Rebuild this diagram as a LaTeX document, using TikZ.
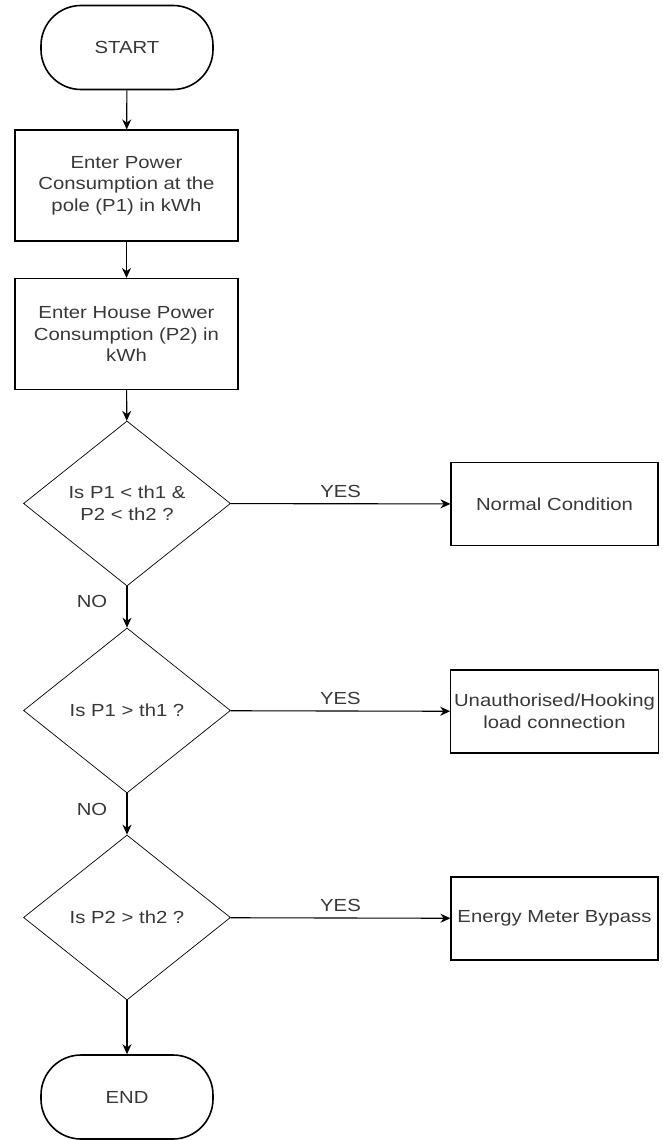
\documentclass[tikz,border=0pt]{standalone}
\usepackage{fontspec}
\setmainfont{Liberation Sans}[FakeStretch=1.16]
\usetikzlibrary{shapes.geometric,arrows.meta}

\tikzset{
    terminal/.style={draw, line width=1.6pt, rounded corners=40pt, minimum width=172pt, minimum height=84pt},
    process/.style={draw, line width=1.1pt, minimum width=223pt, minimum height=111pt, align=center},
    decision/.style={draw, diamond, line width=0.7pt, inner sep=0pt, aspect=1.25, minimum width=207pt, minimum height=165pt, align=center},
    result/.style={draw, line width=1.1pt, minimum width=207pt, minimum height=83pt, align=center},
    flow/.style={-{Stealth[length=10pt, width=9pt]}, line width=1.1pt},
}

\begin{document}
\begin{tikzpicture}[x=1pt, y=1pt, font=\fontsize{17.5}{21.7}\selectfont, text=black!78]
    \useasboundingbox (0,0) rectangle (662,-1140);

    \node[terminal] (start) at (127,-47.5) {START};
    \node[process] (pole) at (126.5,-185.5) {Enter Power\\Consumption at the\\pole (P1) in kWh};
    \node[process] (house) at (126.5,-334) {Enter House Power\\Consumption (P2) in\\kWh};

    \node[decision] (both) at (127,-503.5) {Is P1 < th1 \&\\P2 < th2 ?};
    \node[decision] (polechk) at (127,-710.5) {Is P1 > th1 ?};
    \node[decision] (housechk) at (127,-917.5) {Is P2 > th2 ?};

    \node[result] (normal) at (554.5,-504) {Normal Condition};
    \node[result] (hooking) at (554.5,-711.5) {Unauthorised/Hooking\\load connection};
    \node[result] (bypass) at (554.5,-918.5) {Energy Meter Bypass};

    \node[terminal] (end) at (127,-1097) {END};

    \draw[flow] (start) -- (pole);
    \draw[flow] (pole) -- (house);
    \draw[flow] (house) -- (both);
    \draw[flow] (both) -- node[above=2pt] {YES} (normal);
    \draw[flow] (both) -- node[pos=0, xshift=-35pt, yshift=-15pt] {NO} (polechk);
    \draw[flow] (polechk) -- node[above=2pt] {YES} (hooking);
    \draw[flow] (polechk) -- node[pos=0, xshift=-35pt, yshift=-16pt] {NO} (housechk);
    \draw[flow] (housechk) -- node[above=2pt] {YES} (bypass);
    \draw[flow] (housechk) -- (end);
\end{tikzpicture}
\end{document}
